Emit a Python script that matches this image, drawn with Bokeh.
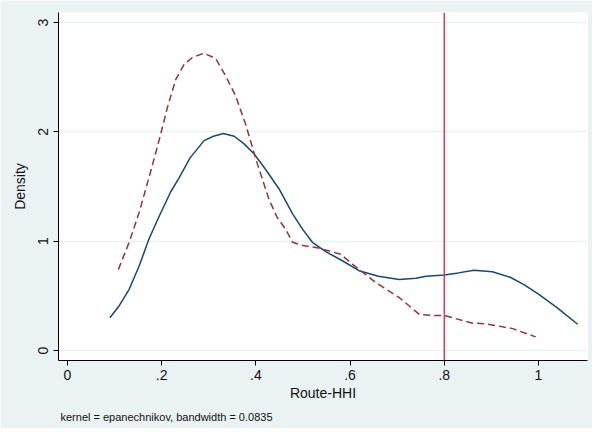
from bokeh.plotting import figure
from bokeh.models import Range1d, FixedTicker, Span, Title
from bokeh.embed import file_html
from bokeh.resources import INLINE

# Data
blue_x = [0.09, 0.11, 0.131, 0.152, 0.173, 0.195, 0.219, 0.237, 0.26, 0.29, 0.31, 0.331, 0.354,
          0.375, 0.396, 0.42, 0.449, 0.478, 0.499, 0.52, 0.55, 0.58, 0.619, 0.66, 0.704, 0.74,
          0.761, 0.80, 0.83, 0.863, 0.902, 0.94, 0.97, 1.0, 1.04, 1.083]
blue_y = [0.30, 0.41, 0.56, 0.77, 1.02, 1.23, 1.45, 1.58, 1.76, 1.92, 1.96, 1.985, 1.96,
          1.89, 1.80, 1.66, 1.48, 1.25, 1.11, 0.99, 0.90, 0.83, 0.73, 0.68, 0.65, 0.66,
          0.68, 0.69, 0.71, 0.735, 0.72, 0.67, 0.60, 0.515, 0.39, 0.24]

red_x = [0.108, 0.131, 0.152, 0.173, 0.195, 0.212, 0.23, 0.248, 0.265, 0.29, 0.315, 0.336,
         0.357, 0.379, 0.40, 0.428, 0.445, 0.463, 0.478, 0.50, 0.53, 0.556, 0.58, 0.605,
         0.655, 0.704, 0.747, 0.775, 0.80, 0.86, 0.888, 0.945, 0.994]
red_y = [0.74, 0.99, 1.26, 1.58, 1.93, 2.22, 2.48, 2.62, 2.68, 2.72, 2.67, 2.51,
         2.33, 2.06, 1.75, 1.38, 1.22, 1.11, 0.99, 0.96, 0.94, 0.91, 0.88, 0.79,
         0.62, 0.485, 0.33, 0.32, 0.32, 0.25, 0.245, 0.20, 0.125]

x_ticks = [0, 0.2, 0.4, 0.6, 0.8, 1.0]
x_tick_labels = ["0", ".2", ".4", ".6", ".8", "1"]
y_ticks = [0, 1, 2, 3]
y_tick_labels = ["0", "1", "2", "3"]
vline_x = 0.8
note = "kernel = epanechnikov, bandwidth = 0.0835"

FONT = "Liberation Sans"
BG = "#EAF2F3"

p = figure(width=592, height=428, output_backend="svg", toolbar_location=None,
           x_range=Range1d(-0.019, 1.104), y_range=Range1d(-0.0915, 3.092),
           min_border_left=58, min_border_right=5, min_border_top=12, min_border_bottom=68)
p.background_fill_color = "white"
p.border_fill_color = BG
p.outline_line_color = None

p.xgrid.grid_line_color = None
p.ygrid.grid_line_color = BG
p.ygrid.grid_line_width = 1.5
p.ygrid.ticker = FixedTicker(ticks=y_ticks)

p.xaxis.ticker = FixedTicker(ticks=x_ticks)
p.xaxis.major_label_overrides = {t: l for t, l in zip(x_ticks, x_tick_labels)}
p.yaxis.ticker = FixedTicker(ticks=y_ticks)
p.yaxis.major_label_overrides = {t: l for t, l in zip(y_ticks, y_tick_labels)}
p.yaxis.major_label_orientation = "vertical"

for ax in (p.xaxis[0], p.yaxis[0]):
    ax.axis_line_color = "black"
    ax.major_tick_line_color = "black"
    ax.minor_tick_line_color = None
    ax.major_tick_out = 5
    ax.major_tick_in = 0
    ax.major_label_text_font = FONT
    ax.major_label_text_font_size = "14px"
    ax.major_label_text_color = "#111111"
    ax.axis_label_text_font = FONT
    ax.axis_label_text_font_size = "14px"
    ax.axis_label_text_font_style = "normal"
    ax.axis_label_text_color = "#111111"

p.xaxis.axis_label = "Route-HHI"
p.yaxis.axis_label = "Density"
p.xaxis.axis_label_standoff = 2
p.yaxis.axis_label_standoff = 8
p.xaxis.major_label_standoff = 4

p.line(blue_x, blue_y, line_color="#1A476F", line_width=1.5)
p.line(red_x, red_y, line_color="#90353B", line_width=1.5, line_dash="7 4")

p.add_layout(Span(location=vline_x, dimension="height", line_color="#D43A64", line_width=1.5))

t = Title(text=note, align="left", text_font=FONT, text_font_size="11px",
          text_font_style="normal", text_color="#111111", offset=2)
p.add_layout(t, "below")

open("out.html", "w").write(file_html(p, INLINE))
